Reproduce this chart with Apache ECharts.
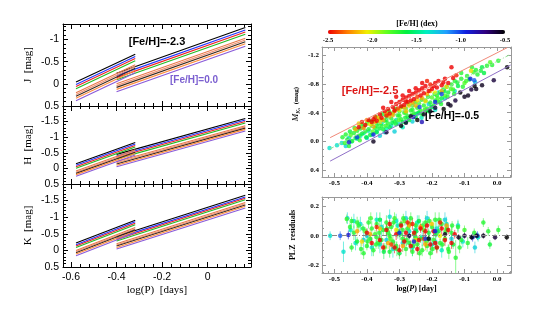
<!DOCTYPE html>
<html><head><meta charset="utf-8">
<script src="https://cdn.jsdelivr.net/npm/echarts@6/dist/echarts.min.js"></script>
<style>html,body{margin:0;padding:0;background:#fff}#c{width:550px;height:310px}</style>
</head><body><div id="c"></div>
<script>
// ---------- Left panels: PLZ relations for J, H, K ----------
const lineLabels = ['[Fe/H]=-2.3','-2.0','-1.7','-1.4','-1.1','-0.8','-0.5','-0.2','[Fe/H]=0.0'];
const lineColors = ['#000000','#2233ff','#ee2222','#22bb22','#e8784a','#f09070','#3a2a20','#ff8c3c','#8a5ad8'];
const shortLogP = [-0.578, -0.318];
const longLogP = [-0.40, 0.165];

const J_shortStart = [-0.04, 0.015, 0.06, 0.11, 0.20, 0.24, 0.28, 0.325, 0.38];
const J_shortEnd   = [-0.67, -0.615, -0.57, -0.52, -0.43, -0.39, -0.35, -0.305, -0.25];
const J_longStart  = [-0.24, -0.185, -0.14, -0.09, 0.0, 0.04, 0.08, 0.125, 0.18];
const J_longEnd    = [-1.27, -1.215, -1.17, -1.12, -1.03, -0.99, -0.95, -0.905, -0.85];

const H_shortStart = [-0.15, -0.10, -0.055, -0.005, 0.08, 0.12, 0.16, 0.20, 0.25];
const H_shortEnd   = [-0.83, -0.78, -0.735, -0.685, -0.60, -0.56, -0.52, -0.48, -0.43];
const H_longStart  = [-0.45, -0.40, -0.355, -0.305, -0.22, -0.18, -0.14, -0.10, -0.05];
const H_longEnd    = [-1.60, -1.55, -1.505, -1.455, -1.37, -1.33, -1.29, -1.25, -1.20];

const K_shortStart = [-0.22, -0.17, -0.13, -0.085, 0.0, 0.035, 0.07, 0.11, 0.16];
const K_shortEnd   = [-0.91, -0.86, -0.82, -0.775, -0.69, -0.655, -0.62, -0.58, -0.53];
const K_longStart  = [-0.42, -0.37, -0.33, -0.285, -0.20, -0.165, -0.13, -0.09, -0.04];
const K_longEnd    = [-1.66, -1.61, -1.57, -1.525, -1.44, -1.405, -1.37, -1.33, -1.28];

const leftXMajor = [-0.6, -0.4, -0.2, 0];
const leftXMinor = [-0.56,-0.52,-0.48,-0.44,-0.36,-0.32,-0.28,-0.24,-0.16,-0.12,-0.08,-0.04,0.04,0.08,0.12,0.16];
const jYMajor = [-1, -0.5, 0, 0.5];
const jYMinor = [-1.3,-1.2,-1.1,-0.9,-0.8,-0.7,-0.6,-0.4,-0.3,-0.2,-0.1,0.1,0.2,0.3,0.4];
const hkYMajor = [-1.5, -1, -0.5, 0, 0.5];
const hkYMinor = [-1.9,-1.8,-1.7,-1.6,-1.4,-1.3,-1.2,-1.1,-0.9,-0.8,-0.7,-0.6,-0.4,-0.3,-0.2,-0.1,0.1,0.2,0.3,0.4];

// ---------- Right panel: observed stars [logP, M_Ks, [Fe/H]] ----------
const redStars = [[-0.425,-0.20,-2.5],[-0.415,-0.27,-2.45],[-0.405,-0.23,-2.5],[-0.395,-0.30,-2.5],[-0.385,-0.27,-2.5],[-0.375,-0.34,-2.4],[-0.37,-0.29,-2.5],[-0.36,-0.38,-2.5],[-0.355,-0.33,-2.5],[-0.345,-0.42,-2.5],[-0.34,-0.36,-2.45],[-0.335,-0.45,-2.5],[-0.33,-0.39,-2.5],[-0.32,-0.48,-2.5],[-0.315,-0.43,-2.5],[-0.31,-0.52,-2.5],[-0.305,-0.46,-2.4],[-0.30,-0.55,-2.5],[-0.295,-0.49,-2.5],[-0.29,-0.58,-2.5],[-0.285,-0.51,-2.5],[-0.28,-0.61,-2.5],[-0.275,-0.55,-2.45],[-0.27,-0.63,-2.5],[-0.265,-0.57,-2.5],[-0.26,-0.66,-2.5],[-0.255,-0.59,-2.5],[-0.25,-0.68,-2.5],[-0.245,-0.62,-2.4],[-0.24,-0.71,-2.5],[-0.235,-0.64,-2.5],[-0.23,-0.74,-2.5],[-0.225,-0.67,-2.5],[-0.22,-0.77,-2.5],[-0.21,-0.70,-2.5],[-0.205,-0.79,-2.45],[-0.20,-0.73,-2.5],[-0.19,-0.81,-2.5],[-0.185,-0.75,-2.5],[-0.18,-0.84,-2.5],[-0.17,-0.78,-2.5],[-0.16,-0.87,-2.5],[-0.15,-0.81,-2.5],[-0.14,-1.03,-2.5],[-0.135,-0.88,-2.5],[-0.125,-0.92,-2.45],[-0.31,-0.62,-2.5],[-0.27,-0.70,-2.5],[-0.35,-0.47,-2.5],[-0.23,-0.81,-2.5],
  [-0.325,-0.55,-2.5],[-0.29,-0.64,-2.5],[-0.25,-0.74,-2.5],[-0.215,-0.84,-2.45],[-0.195,-0.77,-2.5],[-0.165,-0.82,-2.5],[-0.38,-0.31,-2.5],[-0.28,-0.56,-2.5]];
const orangeStars = [[-0.435,-0.17,-2.2],[-0.425,-0.25,-2.1],[-0.41,-0.19,-2.25],[-0.40,-0.30,-2.2],[-0.39,-0.24,-2.05],[-0.375,-0.27,-2.2],[-0.365,-0.33,-2.15],[-0.35,-0.30,-2.2],[-0.34,-0.39,-2.1],[-0.33,-0.35,-2.2],[-0.315,-0.42,-2.2],[-0.30,-0.44,-2.05],[-0.285,-0.47,-2.2],[-0.27,-0.50,-2.15],[-0.26,-0.54,-2.2],[-0.245,-0.57,-2.1],[-0.23,-0.60,-2.2],[-0.215,-0.66,-2.2],[-0.205,-0.70,-2.15],[-0.19,-0.68,-2.05],[-0.17,-0.70,-2.2],[-0.155,-0.76,-2.1],[-0.08,-0.98,-2.1],
  [-0.38,-0.21,-2.2],[-0.36,-0.27,-2.1],[-0.32,-0.37,-2.2],[-0.28,-0.42,-2.15],[-0.25,-0.50,-2.2],[-0.22,-0.56,-2.1]];
const greenStars = [[-0.475,-0.06,-1.7],[-0.468,0.02,-1.75],[-0.46,-0.03,-1.65],[-0.455,0.06,-1.7],[-0.45,-0.09,-1.8],[-0.445,-0.01,-1.7],[-0.44,-0.12,-1.7],[-0.435,-0.05,-1.6],[-0.43,-0.15,-1.7],[-0.425,-0.08,-1.75],[-0.42,-0.18,-1.7],[-0.415,-0.11,-1.65],[-0.41,-0.21,-1.7],[-0.405,-0.14,-1.7],[-0.40,-0.25,-1.8],[-0.395,-0.17,-1.7],[-0.39,-0.09,-1.65],[-0.385,-0.22,-1.7],[-0.38,-0.28,-1.75],[-0.375,-0.19,-1.7],[-0.37,-0.13,-1.6],[-0.365,-0.25,-1.7],[-0.36,-0.31,-1.8],[-0.355,-0.22,-1.7],[-0.35,-0.17,-1.65],[-0.345,-0.29,-1.7],[-0.34,-0.35,-1.75],[-0.335,-0.25,-1.7],[-0.33,-0.20,-1.6],[-0.325,-0.32,-1.7],[-0.32,-0.39,-1.8],[-0.315,-0.28,-1.7],[-0.31,-0.24,-1.65],[-0.305,-0.36,-1.7],[-0.30,-0.42,-1.75],[-0.295,-0.31,-1.7],[-0.29,-0.27,-1.6],[-0.285,-0.40,-1.7],[-0.28,-0.46,-1.8],[-0.275,-0.35,-1.7],[-0.27,-0.30,-1.65],[-0.265,-0.43,-1.7],[-0.26,-0.50,-1.75],[-0.255,-0.39,-1.7],[-0.25,-0.34,-1.6],[-0.245,-0.47,-1.7],[-0.24,-0.53,-1.8],[-0.235,-0.43,-1.7],[-0.23,-0.38,-1.65],[-0.225,-0.50,-1.7],[-0.22,-0.57,-1.75],[-0.215,-0.46,-1.7],[-0.21,-0.42,-1.6],[-0.205,-0.54,-1.7],[-0.20,-0.61,-1.8],[-0.195,-0.50,-1.7],[-0.19,-0.57,-1.65],[-0.185,-0.64,-1.7],[-0.18,-0.55,-1.75],[-0.175,-0.68,-1.7],[-0.17,-0.60,-1.6],[-0.165,-0.72,-1.7],[-0.16,-0.64,-1.8],[-0.155,-0.76,-1.7],[-0.15,-0.68,-1.65],[-0.14,-0.79,-1.7],[-0.135,-0.72,-1.75],[-0.13,-0.84,-1.7],[-0.12,-0.77,-1.6],[-0.11,-0.87,-1.7],[-0.10,-0.81,-1.8],[-0.092,-0.91,-1.7],[-0.085,-0.86,-1.65],[-0.077,-1.03,-1.7],[-0.072,-0.96,-1.75],[-0.06,-0.93,-1.7],[-0.046,-1.03,-1.6],[-0.031,-1.05,-1.7],[-0.021,-1.10,-1.8],[0.004,-1.12,-1.7],[-0.11,-0.95,-1.7],[-0.05,-0.98,-1.65],
  [-0.465,-0.10,-1.7],[-0.452,-0.14,-1.65],[-0.438,-0.19,-1.7],[-0.422,-0.02,-1.75],[-0.418,-0.24,-1.7],[-0.402,-0.06,-1.6],[-0.392,-0.29,-1.7],[-0.382,-0.14,-1.8],[-0.372,-0.34,-1.7],[-0.362,-0.18,-1.65],[-0.352,-0.38,-1.7],[-0.342,-0.22,-1.75],[-0.332,-0.42,-1.7],[-0.322,-0.26,-1.6],[-0.312,-0.45,-1.7],[-0.302,-0.30,-1.8],[-0.292,-0.48,-1.7],[-0.282,-0.33,-1.65],[-0.272,-0.52,-1.7],[-0.262,-0.37,-1.75],[-0.252,-0.55,-1.7],[-0.242,-0.40,-1.6],[-0.232,-0.58,-1.7],[-0.222,-0.44,-1.8],[-0.212,-0.62,-1.7],[-0.202,-0.48,-1.65],[-0.192,-0.66,-1.7],[-0.182,-0.60,-1.75],[-0.172,-0.52,-1.7],[-0.162,-0.70,-1.6],[-0.152,-0.62,-1.7],[-0.142,-0.73,-1.8],[-0.132,-0.66,-1.7],[-0.122,-0.82,-1.65],[-0.105,-0.76,-1.7],[-0.095,-0.84,-1.75],[-0.065,-0.99,-1.7],[-0.04,-0.95,-1.6],[-0.015,-1.06,-1.7],[-0.30,-0.36,-1.7],[-0.28,-0.40,-1.75],[-0.26,-0.44,-1.7],[-0.34,-0.30,-1.65],[-0.37,-0.22,-1.7]];
const cyanStars = [[-0.515,0.09,-1.35],[-0.477,0.02,-1.35],[-0.465,0.06,-1.3],[-0.447,0.0,-1.4],[-0.43,-0.04,-1.35],[-0.41,-0.12,-1.35],[-0.40,-0.05,-1.3],[-0.385,-0.10,-1.4],[-0.37,-0.14,-1.35],[-0.36,-0.08,-1.3],[-0.355,-0.25,-1.35],[-0.34,-0.18,-1.4],[-0.325,-0.22,-1.35],[-0.315,-0.14,-1.3],[-0.303,-0.25,-1.35],[-0.29,-0.20,-1.4],[-0.272,-0.32,-1.35],[-0.26,-0.28,-1.3],[-0.242,-0.39,-1.35],[-0.232,-0.33,-1.4],[-0.22,-0.44,-1.35],[-0.20,-0.48,-1.3],[-0.18,-0.68,-1.35],[-0.175,-0.55,-1.4],[-0.16,-0.60,-1.35],[-0.067,-0.82,-1.3],[-0.13,-0.70,-1.35],
  [-0.492,0.05,-1.35],[-0.455,-0.05,-1.3],[-0.42,-0.08,-1.4],[-0.395,-0.15,-1.35],[-0.345,-0.13,-1.3],[-0.31,-0.30,-1.35],[-0.28,-0.27,-1.4],[-0.25,-0.38,-1.35],[-0.21,-0.52,-1.3],[-0.19,-0.44,-1.35]];
const blueStars = [[-0.455,0.01,-0.9],[-0.43,-0.06,-1.0],[-0.38,-0.10,-0.95],[-0.257,-0.34,-0.9],[-0.231,-0.27,-0.85],[-0.238,-0.48,-1.0],[-0.19,-0.55,-0.95],[-0.17,-0.66,-1.0],[-0.082,-0.87,-0.95],[-0.07,-0.85,-1.05]];
const blackStars = [[-0.38,0.0,-0.55],[-0.34,-0.13,-0.6],[-0.295,-0.22,-0.5],[-0.28,-0.26,-0.55],[-0.265,-0.35,-0.6],[-0.245,-0.30,-0.5],[-0.225,-0.38,-0.55],[-0.205,-0.42,-0.55],[-0.19,-0.47,-0.6],[-0.164,-0.45,-0.5],[-0.15,-0.52,-0.55],[-0.143,-0.50,-0.55],[-0.128,-0.57,-0.6],[-0.113,-0.68,-0.5],[-0.10,-0.62,-0.55],[-0.089,-0.64,-0.55],[-0.079,-0.72,-0.6],[-0.069,-0.77,-0.5],[-0.064,-0.73,-0.55],[-0.046,-0.78,-0.55],[-0.01,-0.85,-0.6],[0.031,-1.03,-0.5]];

const plzLineMetalPoor = [[-0.513,-0.055],[0.031,-1.30]];
const plzLineMid = [[-0.513,0.10],[0.042,-1.21]];
const plzLineMetalRich = [[-0.513,0.27],[0.042,-1.06]];

// ---------- Residuals [logP, residual, [Fe/H], error] ----------
const resGreen = [[-0.447,0.10,-1.7,0.03],[-0.447,-0.08,-1.7,0.03],[-0.462,0.115,-1.75,0.03],[-0.44,0.02,-1.7,0.05],[-0.43,-0.04,-1.65,0.03],[-0.425,0.07,-1.7,0.04],[-0.41,-0.12,-1.7,0.04],[-0.405,0.03,-1.8,0.03],[-0.40,-0.07,-1.7,0.03],[-0.395,0.09,-1.7,0.04],[-0.39,-0.02,-1.65,0.03],[-0.385,0.05,-1.7,0.05],[-0.38,-0.10,-1.7,0.04],[-0.375,0.01,-1.75,0.03],[-0.37,0.08,-1.7,0.03],[-0.365,-0.05,-1.7,0.04],[-0.36,0.11,-1.6,0.05],[-0.355,-0.03,-1.7,0.03],[-0.35,0.04,-1.7,0.04],[-0.345,-0.08,-1.8,0.03],[-0.34,0.09,-1.7,0.05],[-0.335,0.02,-1.7,0.03],[-0.33,-0.11,-1.65,0.04],[-0.325,0.06,-1.7,0.03],[-0.32,-0.04,-1.7,0.04],[-0.315,0.12,-1.75,0.04],[-0.31,-0.07,-1.7,0.03],[-0.305,0.03,-1.7,0.05],[-0.30,-0.12,-1.6,0.04],[-0.295,0.08,-1.7,0.03],[-0.29,-0.02,-1.7,0.04],[-0.285,0.10,-1.8,0.03],[-0.28,-0.09,-1.7,0.05],[-0.275,0.05,-1.7,0.03],[-0.27,-0.05,-1.65,0.04],[-0.265,0.12,-1.7,0.04],[-0.26,-0.11,-1.7,0.03],[-0.255,0.01,-1.75,0.04],[-0.25,0.07,-1.7,0.03],[-0.245,-0.06,-1.7,0.05],[-0.24,0.10,-1.6,0.04],[-0.235,-0.02,-1.7,0.03],[-0.23,-0.10,-1.7,0.04],[-0.225,0.04,-1.8,0.03],[-0.22,0.09,-1.7,0.05],[-0.215,-0.07,-1.7,0.04],[-0.21,0.02,-1.65,0.03],[-0.205,-0.12,-1.7,0.04],[-0.20,0.06,-1.7,0.03],[-0.195,-0.03,-1.75,0.04],[-0.19,0.11,-1.7,0.05],[-0.185,-0.08,-1.7,0.03],[-0.18,0.03,-1.6,0.04],[-0.175,-0.05,-1.7,0.03],[-0.17,0.08,-1.7,0.04],[-0.16,-0.02,-1.8,0.03],[-0.155,0.05,-1.7,0.04],[-0.15,-0.09,-1.7,0.03],[-0.14,0.02,-1.7,0.05],[-0.135,-0.06,-1.65,0.03],[-0.127,-0.15,-1.7,0.12],[-0.12,0.06,-1.7,0.04],[-0.11,-0.03,-1.7,0.03],[-0.10,0.04,-1.75,0.03],[-0.09,-0.05,-1.7,0.04],[-0.042,0.09,-1.7,0.03],[-0.027,0.03,-1.7,0.03],[-0.022,-0.06,-1.65,0.03],[0.004,0.04,-1.7,0.03],[-0.07,0.02,-1.7,0.03],
  [-0.452,0.06,-1.7,0.03],[-0.418,-0.09,-1.7,0.04],[-0.412,0.05,-1.65,0.03],[-0.398,-0.04,-1.7,0.04],[-0.388,0.12,-1.75,0.04],[-0.372,-0.06,-1.7,0.03],[-0.362,0.02,-1.7,0.04],[-0.348,-0.11,-1.6,0.05],[-0.338,0.05,-1.7,0.03],[-0.328,-0.02,-1.8,0.04],[-0.318,0.09,-1.7,0.03],[-0.308,-0.09,-1.7,0.05],[-0.298,0.01,-1.65,0.04],[-0.288,0.12,-1.7,0.03],[-0.278,-0.03,-1.7,0.04],[-0.268,0.08,-1.75,0.05],[-0.258,-0.07,-1.7,0.03],[-0.248,0.03,-1.6,0.04],[-0.238,-0.12,-1.7,0.05],[-0.228,0.07,-1.7,0.03],[-0.218,-0.04,-1.8,0.04],[-0.208,0.10,-1.7,0.03],[-0.198,-0.09,-1.7,0.04],[-0.188,0.01,-1.65,0.03],[-0.178,0.11,-1.7,0.05],[-0.168,-0.06,-1.7,0.04],[-0.158,0.03,-1.75,0.03],[-0.148,-0.11,-1.7,0.05],[-0.138,0.07,-1.7,0.03],[-0.115,-0.08,-1.7,0.04],[-0.33,0.00,-1.7,0.04],[-0.29,0.04,-1.7,0.03],[-0.25,-0.01,-1.7,0.04],[-0.21,-0.02,-1.7,0.03],[-0.37,-0.01,-1.7,0.04],[-0.43,0.09,-1.7,0.04]];
const resCyan = [[-0.513,0.0,-1.35,0.03],[-0.472,-0.11,-1.35,0.07],[-0.46,0.12,-1.3,0.04],[-0.45,0.04,-1.4,0.04],[-0.435,-0.05,-1.35,0.05],[-0.42,0.08,-1.35,0.05],[-0.40,0.0,-1.3,0.05],[-0.385,-0.08,-1.35,0.06],[-0.37,0.11,-1.4,0.05],[-0.355,0.06,-1.35,0.06],[-0.34,-0.03,-1.3,0.05],[-0.33,0.13,-1.35,0.05],[-0.32,-0.09,-1.35,0.06],[-0.305,0.07,-1.4,0.05],[-0.29,-0.05,-1.35,0.06],[-0.28,0.12,-1.3,0.05],[-0.27,0.03,-1.35,0.05],[-0.26,-0.08,-1.35,0.06],[-0.245,0.09,-1.4,0.05],[-0.23,-0.01,-1.35,0.06],[-0.215,0.12,-1.3,0.05],[-0.20,-0.06,-1.35,0.05],[-0.185,0.05,-1.35,0.06],[-0.17,-0.10,-1.4,0.05],[-0.155,0.08,-1.35,0.05],[-0.14,-0.02,-1.3,0.05],[-0.12,0.07,-1.35,0.04],[-0.105,-0.04,-1.35,0.04],[-0.068,-0.08,-1.3,0.04],[-0.058,-0.01,-1.4,0.03],
  [-0.44,0.10,-1.35,0.05],[-0.41,-0.03,-1.3,0.05],[-0.36,-0.06,-1.35,0.06],[-0.31,0.10,-1.35,0.05],[-0.25,0.04,-1.4,0.05],[-0.19,-0.04,-1.35,0.05],[-0.16,0.11,-1.3,0.05]];
const resRed = [[-0.40,0.02,-2.5,0.03],[-0.385,-0.05,-2.5,0.04],[-0.37,0.06,-2.45,0.03],[-0.36,-0.03,-2.5,0.04],[-0.35,-0.08,-2.5,0.03],[-0.34,0.04,-2.5,0.04],[-0.325,-0.06,-2.4,0.03],[-0.31,0.01,-2.5,0.04],[-0.30,-0.10,-2.5,0.04],[-0.295,0.07,-2.5,0.03],[-0.285,-0.04,-2.5,0.04],[-0.275,0.09,-2.45,0.03],[-0.265,-0.07,-2.5,0.04],[-0.255,0.02,-2.5,0.03],[-0.245,-0.09,-2.5,0.04],[-0.235,0.05,-2.5,0.03],[-0.225,-0.02,-2.4,0.04],[-0.215,0.07,-2.5,0.03],[-0.205,-0.06,-2.5,0.04],[-0.195,0.03,-2.5,0.03],[-0.185,-0.08,-2.5,0.04],[-0.175,0.09,-2.45,0.03],[-0.16,-0.03,-2.5,0.04],[-0.15,0.04,-2.5,0.03],[-0.14,-0.05,-2.5,0.04],[-0.13,0.01,-2.5,0.03],
  [-0.33,0.08,-2.5,0.03],[-0.315,-0.08,-2.5,0.04],[-0.28,0.02,-2.5,0.03],[-0.26,0.08,-2.45,0.04],[-0.24,-0.03,-2.5,0.03],[-0.22,0.03,-2.5,0.04],[-0.19,-0.05,-2.5,0.03],[-0.17,0.05,-2.5,0.04]];
const resOrange = [[-0.43,0.03,-2.2,0.03],[-0.415,-0.04,-2.1,0.03],[-0.39,0.01,-2.2,0.04],[-0.36,0.05,-2.15,0.03],[-0.335,-0.05,-2.2,0.04],[-0.31,0.04,-2.05,0.03],[-0.29,-0.07,-2.2,0.04],[-0.27,0.07,-2.2,0.03],[-0.25,-0.03,-2.1,0.04],[-0.235,0.06,-2.2,0.03],[-0.22,-0.06,-2.2,0.04],[-0.20,0.08,-2.15,0.03],[-0.175,0.00,-2.05,0.03],[-0.155,0.07,-2.2,0.03]];
const resBlue = [[-0.482,0.0,-1.05,0.03],[-0.457,0.005,-0.9,0.03],[-0.30,0.02,-0.95,0.03],[-0.255,-0.04,-0.9,0.04],[-0.22,-0.02,-1.0,0.03],[-0.19,0.03,-0.95,0.03],[-0.06,0.0,-1.0,0.03],[-0.075,-0.01,-0.95,0.03]];
const resBlack = [[-0.118,-0.01,-0.55,0.02],[-0.10,0.0,-0.6,0.02],[-0.078,-0.01,-0.5,0.02],[-0.063,0.0,-0.55,0.02],[-0.042,0.0,-0.55,0.02],[-0.006,-0.01,-0.6,0.02],[0.03,-0.01,-0.5,0.02],[-0.16,0.01,-0.55,0.02],[-0.21,-0.02,-0.55,0.02],[-0.27,0.0,-0.6,0.02]];

const rightXMajor = [-0.5,-0.4,-0.3,-0.2,-0.1,0.0];
const rightXMinor = [-0.52,-0.48,-0.46,-0.44,-0.42,-0.38,-0.36,-0.34,-0.32,-0.28,-0.26,-0.24,-0.22,-0.18,-0.16,-0.14,-0.12,-0.08,-0.06,-0.04,-0.02,0.02,0.04];
const plzYMajor = [-1.2,-0.8,-0.4,0.0,0.4];
const plzYMinor = [-1.3,-1.1,-1.0,-0.9,-0.7,-0.6,-0.5,-0.3,-0.2,-0.1,0.1,0.2,0.3];
const resYMajor = [-0.2,0.0,0.2];
const resYMinor = [-0.25,-0.15,-0.1,-0.05,0.05,0.1,0.15,0.25];
const cbarTicks = [-2.5,-2.0,-1.5,-1.0,-0.5];
const cbarColors = ['#ee0000','#ff7f00','#f0f000','#60ff20','#00f040','#00f0c0','#20a0ff','#1020e0','#300080','#000000'];

// ---------- build ----------
const xAxes = [], yAxes = [];
function mkAxis(g, pos, min, max, inverse, ticks, len, showLine, color, label, name) {
  const a = {
    type: 'value', gridIndex: g, position: pos, min: min, max: max, inverse: !!inverse,
    axisLine: { show: showLine, onZero: false, lineStyle: { color: color, width: 1 } },
    axisTick: { show: true, inside: true, length: len, customValues: ticks, lineStyle: { color: color, width: 1 } },
    axisLabel: label ? Object.assign({ show: true, customValues: ticks }, label) : { show: false },
    splitLine: { show: false }
  };
  if (name) Object.assign(a, name);
  return a;
}
function addBox(g, c) {
  const xi = xAxes.length, yi = yAxes.length;
  xAxes.push(mkAxis(g, 'bottom', c.xmin, c.xmax, false, c.xMaj, c.maj, true, c.color, c.xLabel, c.xName));
  xAxes.push(mkAxis(g, 'bottom', c.xmin, c.xmax, false, c.xMin, c.min, false, c.color, null));
  xAxes.push(mkAxis(g, 'top', c.xmin, c.xmax, false, c.xMaj, c.maj, true, c.color, null));
  xAxes.push(mkAxis(g, 'top', c.xmin, c.xmax, false, c.xMin, c.min, false, c.color, null));
  yAxes.push(mkAxis(g, 'left', c.ymin, c.ymax, c.inv, c.yMaj, c.maj, true, c.color, c.yLabel, c.yName));
  yAxes.push(mkAxis(g, 'left', c.ymin, c.ymax, c.inv, c.yMin, c.min, false, c.color, null));
  yAxes.push(mkAxis(g, 'right', c.ymin, c.ymax, c.inv, c.yMaj, c.maj, true, c.color, null));
  yAxes.push(mkAxis(g, 'right', c.ymin, c.ymax, c.inv, c.yMin, c.min, false, c.color, null));
  return { xi: xi, yi: yi };
}
const sansLbl = { fontFamily: 'Liberation Sans', fontSize: 10.5, color: '#000', margin: 4 };
const serifLbl = { fontFamily: 'Liberation Serif', fontWeight: 'bold', fontSize: 7, color: '#000', margin: 3, formatter: v => Number(v).toFixed(1) };
const leftName = t => ({ name: t, nameLocation: 'middle', nameGap: 29, nameRotate: 90,
  nameTextStyle: { fontFamily: 'Liberation Serif', fontSize: 11, color: '#000' } });

const grids = [
  { left: 63, top: 24, width: 188, height: 82 },
  { left: 63, top: 106, width: 188, height: 78 },
  { left: 63, top: 184, width: 188, height: 83 },
  { left: 322, top: 47, width: 189, height: 130 },
  { left: 322, top: 197, width: 189, height: 76 },
  { left: 328, top: 31, width: 177, height: 3 }
];
const boxJ = addBox(0, { xmin: -0.635, xmax: 0.19, ymin: -1.35, ymax: 0.5, inv: true, xMaj: leftXMajor, xMin: leftXMinor, yMaj: jYMajor, yMin: jYMinor, maj: 5, min: 3, color: '#000', xLabel: null, yLabel: sansLbl, yName: leftName('J  [mag]') });
const boxH = addBox(1, { xmin: -0.635, xmax: 0.19, ymin: -2, ymax: 0.5, inv: true, xMaj: leftXMajor, xMin: leftXMinor, yMaj: hkYMajor, yMin: hkYMinor, maj: 5, min: 3, color: '#000', xLabel: null, yLabel: sansLbl, yName: leftName('H  [mag]') });
const boxK = addBox(2, { xmin: -0.635, xmax: 0.19, ymin: -2, ymax: 0.5, inv: true, xMaj: leftXMajor, xMin: leftXMinor, yMaj: hkYMajor, yMin: hkYMinor, maj: 5, min: 3, color: '#000',
  xLabel: Object.assign({}, sansLbl, { margin: 5 }), yLabel: sansLbl, yName: leftName('K  [mag]'),
  xName: { name: 'log(P)  [days]', nameLocation: 'middle', nameGap: 18, nameTextStyle: { fontFamily: 'Liberation Serif', fontSize: 11, color: '#000' } } });
const boxP = addBox(3, { xmin: -0.538, xmax: 0.043, ymin: -1.31, ymax: 0.49, inv: true, xMaj: rightXMajor, xMin: rightXMinor, yMaj: plzYMajor, yMin: plzYMinor, maj: 4, min: 2, color: '#999', xLabel: serifLbl, yLabel: serifLbl });
const boxR = addBox(4, { xmin: -0.538, xmax: 0.043, ymin: -0.255, ymax: 0.265, inv: false, xMaj: rightXMajor, xMin: rightXMinor, yMaj: resYMajor, yMin: resYMinor, maj: 4, min: 2, color: '#999', xLabel: serifLbl, yLabel: serifLbl,
  yName: { name: 'PLZ  residuals', nameLocation: 'middle', nameGap: 25, nameRotate: 90, nameTextStyle: { fontFamily: 'Liberation Serif', fontWeight: 'bold', fontSize: 8, color: '#000' } },
  xName: { name: '{n|log(}{i|P}{n|) [day]}', nameLocation: 'middle', nameGap: 12, nameTextStyle: { rich: {
    n: { fontFamily: 'Liberation Serif', fontWeight: 'bold', fontSize: 8, color: '#000' },
    i: { fontFamily: 'Liberation Serif', fontWeight: 'bold', fontStyle: 'italic', fontSize: 8, color: '#000' } } } } });
// colorbar axis
xAxes.push({ type: 'value', gridIndex: 5, min: -2.5, max: -0.5, position: 'bottom', axisLine: { show: false }, axisTick: { show: false }, splitLine: { show: false },
  axisLabel: { show: true, customValues: cbarTicks, fontFamily: 'Liberation Serif', fontWeight: 'bold', fontSize: 6.5, color: '#000', margin: 3, formatter: v => Number(v).toFixed(1) } });
yAxes.push({ type: 'value', gridIndex: 5, show: false, min: 0, max: 1 });

const series = [];
const bands = [
  { b: boxJ, ss: J_shortStart, se: J_shortEnd, ls: J_longStart, le: J_longEnd },
  { b: boxH, ss: H_shortStart, se: H_shortEnd, ls: H_longStart, le: H_longEnd },
  { b: boxK, ss: K_shortStart, se: K_shortEnd, ls: K_longStart, le: K_longEnd }
];
bands.forEach(bd => {
  for (let i = 0; i < lineColors.length; i++) {
    const common = { type: 'line', xAxisIndex: bd.b.xi, yAxisIndex: bd.b.yi, showSymbol: false, silent: true, name: lineLabels[i],
      lineStyle: { color: lineColors[i], width: 1.1 } };
    series.push(Object.assign({}, common, { data: [[shortLogP[0], bd.ss[i]], [shortLogP[1], bd.se[i]]] }));
    series.push(Object.assign({}, common, { data: [[longLogP[0], bd.ls[i]], [longLogP[1], bd.le[i]]] }));
  }
});
// PLZ reference lines
series.push({ type: 'line', xAxisIndex: boxP.xi, yAxisIndex: boxP.yi, data: plzLineMetalPoor, showSymbol: false, silent: true, lineStyle: { color: '#f08878', width: 1 } });
series.push({ type: 'line', xAxisIndex: boxP.xi, yAxisIndex: boxP.yi, data: plzLineMid, showSymbol: false, silent: true, lineStyle: { color: '#90e090', width: 1, type: [4, 2, 1, 2] } });
series.push({ type: 'line', xAxisIndex: boxP.xi, yAxisIndex: boxP.yi, data: plzLineMetalRich, showSymbol: false, silent: true, lineStyle: { color: '#9070c8', width: 1 } });

const mapped = [];
[cyanStars, greenStars, orangeStars, redStars, blueStars, blackStars].forEach(d => {
  mapped.push(series.length);
  series.push({ type: 'scatter', xAxisIndex: boxP.xi, yAxisIndex: boxP.yi, data: d, symbolSize: 4.5, encode: { x: 0, y: 1 }, silent: true });
});
function errItem(params, api) {
  const x = api.value(0), y = api.value(1), e = api.value(3);
  const p1 = api.coord([x, y - e]), p2 = api.coord([x, y + e]);
  return { type: 'line', shape: { x1: p1[0], y1: p1[1], x2: p2[0], y2: p2[1] }, style: { stroke: api.visual('color'), lineWidth: 1, opacity: 0.55 } };
}
const resGroups = [resCyan, resGreen, resOrange, resRed, resBlue, resBlack];
resGroups.forEach(d => {
  mapped.push(series.length);
  series.push({ type: 'custom', xAxisIndex: boxR.xi, yAxisIndex: boxR.yi, data: d, renderItem: errItem, encode: { x: 0, y: 1 }, silent: true, clip: true });
});
series.push({ type: 'line', xAxisIndex: boxR.xi, yAxisIndex: boxR.yi, data: [], silent: true,
  markLine: { silent: true, symbol: 'none', label: { show: false }, data: [{ yAxis: 0 }], lineStyle: { color: '#888', width: 1, type: [5, 2, 1, 2] } } });
resGroups.forEach(d => {
  mapped.push(series.length);
  series.push({ type: 'scatter', xAxisIndex: boxR.xi, yAxisIndex: boxR.yi, data: d, symbolSize: 4.5, encode: { x: 0, y: 1 }, silent: true });
});

const chart = echarts.init(document.getElementById('c'));
chart.setOption({
  animation: false,
  backgroundColor: '#fff',
  grid: grids,
  xAxis: xAxes,
  yAxis: yAxes,
  visualMap: {
    type: 'continuous', min: -2.5, max: -0.5, dimension: 2, seriesIndex: mapped,
    orient: 'horizontal', left: 328, top: 30, itemWidth: 4, itemHeight: 177, padding: 0,
    calculable: false, showLabel: false, text: null, hoverLink: false,
    inRange: { color: cbarColors }
  },
  graphic: [
    { type: 'text', x: 157, y: 42, silent: true, style: { text: '[Fe/H]=-2.3', fill: '#000', font: 'bold 11px "Liberation Sans"', align: 'center', verticalAlign: 'middle' } },
    { type: 'text', x: 194, y: 80, silent: true, style: { text: '[Fe/H]=0.0', fill: '#7b5fd0', font: 'bold 10px "Liberation Sans"', align: 'center', verticalAlign: 'middle' } },
    { type: 'text', x: 370, y: 91, silent: true, style: { text: '[Fe/H]=-2.5', fill: '#dd1515', font: 'bold 11px "Liberation Sans"', align: 'center', verticalAlign: 'middle' } },
    { type: 'text', x: 452, y: 116, silent: true, style: { text: '[Fe/H]=-0.5', fill: '#000', font: 'bold 10.5px "Liberation Sans"', align: 'center', verticalAlign: 'middle' } },
    { type: 'text', x: 417, y: 24, silent: true, style: { text: '[Fe/H] (dex)', fill: '#000', font: 'bold 8px "Liberation Serif"', align: 'center', verticalAlign: 'middle' } },
    { type: 'text', x: 296, y: 104, rotation: Math.PI / 2, silent: true, style: {
      text: '{i|M}{s|K}{t|s} {n|(mag)}', align: 'center', verticalAlign: 'middle',
      rich: { i: { font: 'italic 9px "Liberation Serif"', fill: '#000' }, s: { font: 'italic 6px "Liberation Serif"', fill: '#000', padding: [4, 0, 0, 0] },
              t: { font: 'italic 5px "Liberation Serif"', fill: '#000', padding: [6, 0, 0, 0] }, n: { font: 'bold 7px "Liberation Serif"', fill: '#000' } } } }
  ],
  series: series
});
</script></body></html>
